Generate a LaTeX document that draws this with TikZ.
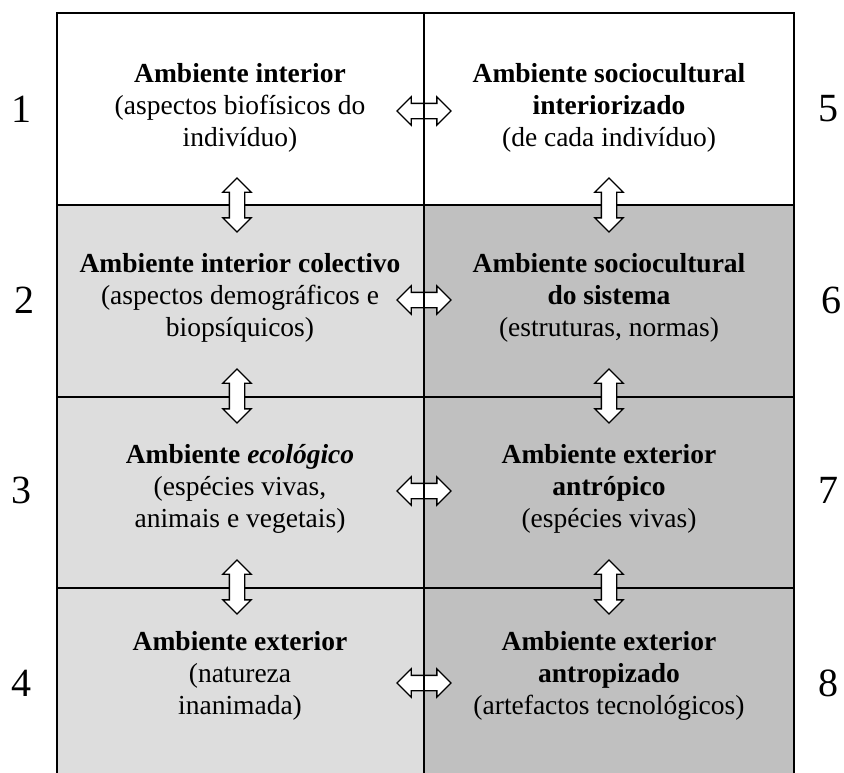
\documentclass[tikz,border=0pt]{standalone}
\usepackage{fontspec}
\setmainfont{Liberation Serif}
\usetikzlibrary{shapes.arrows}
\definecolor{lightcell}{RGB}{221,221,221}
\definecolor{darkcell}{RGB}{192,192,192}
\tikzset{
  cellbox/.style={inner sep=0pt, minimum width=367pt, minimum height=#1},
  cellbox/.default=192pt,
  gridline/.style={line width=1.8pt},
  celltext/.style={align=center, font=\fontsize{27.5}{32}\selectfont, inner sep=0pt},
  rownum/.style={font=\fontsize{40}{40}\selectfont, inner sep=0pt},
  linkarrow/.style={double arrow, draw, fill=white, line width=1.3pt, inner sep=7pt,
    minimum height=54pt, double arrow head extend=6.5pt},
  vlink/.style={linkarrow, rotate=90},
}
\begin{document}
\begin{tikzpicture}[x=1pt,y=-1pt]
\useasboundingbox (0,0) rectangle (844,772);
\clip (0,0) rectangle (844,772);
% cell backgrounds of the two columns
\node[cellbox, fill=white]              (c1) at (240.5,109)   {};
\node[cellbox, fill=lightcell]          (c2) at (240.5,300.5) {};
\node[cellbox, fill=lightcell]          (c3) at (240.5,491.5) {};
\node[cellbox=203pt, fill=lightcell]    (c4) at (240.5,688.5) {};
\node[cellbox=192pt, fill=white, minimum width=370pt]     (c5) at (609,109)   {};
\node[cellbox, fill=darkcell, minimum width=370pt]        (c6) at (609,300.5) {};
\node[cellbox, fill=darkcell, minimum width=370pt]        (c7) at (609,491.5) {};
\node[cellbox=203pt, fill=darkcell, minimum width=370pt]  (c8) at (609,688.5) {};
% frame and row rules
\draw[gridline] (c1.north west) rectangle (c8.south east);
\draw[gridline] (c1.south west) -- (c5.south east);
\draw[gridline] (c2.south west) -- (c6.south east);
\draw[gridline] (c3.south west) -- (c7.south east);
% texts
\node[celltext] (t1) at (240,108) {\textbf{Ambiente interior}\\(aspectos biofísicos do\\indivíduo)};
\node[celltext] (t2) at (240,298) {\textbf{Ambiente interior colectivo}\\(aspectos demográficos e\\biopsíquicos)};
\node[celltext] (t3) at (240,489) {\textbf{Ambiente \textit{ecológico}}\\(espécies vivas,\\animais e vegetais)};
\node[celltext] (t4) at (240,676) {\textbf{Ambiente exterior}\\(natureza\\inanimada)};
\node[celltext] (t5) at (609,108) {\textbf{Ambiente sociocultural}\\\textbf{interiorizado}\\(de cada indivíduo)};
\node[celltext] (t6) at (609,298) {\textbf{Ambiente sociocultural}\\\textbf{do sistema}\\(estruturas, normas)};
\node[celltext] (t7) at (609,489) {\textbf{Ambiente exterior}\\\textbf{antrópico}\\(espécies vivas)};
\node[celltext] (t8) at (609,676) {\textbf{Ambiente exterior}\\\textbf{antropizado}\\(artefactos tecnológicos)};
% row numbers
\node[rownum] (n1) at (22,109) {1};
\node[rownum] (n2) at (24,300) {2};
\node[rownum] (n3) at (22,490) {3};
\node[rownum] (n4) at (22,683) {4};
\node[rownum] (n5) at (828,109) {5};
\node[rownum] (n6) at (831,300) {6};
\node[rownum] (n7) at (828,490) {7};
\node[rownum] (n8) at (828,683) {8};
% horizontal links
\node[linkarrow] (h15) at (424,111) {};
\node[linkarrow] (h26) at (424,300) {};
\node[linkarrow] (h37) at (424,491) {};
\node[linkarrow] (h48) at (424,683) {};
% middle divider runs over the horizontal links
\draw[gridline] (c1.north east) -- (c4.south east);
% vertical links
\node[vlink] (v12) at (237,205) {};
\node[vlink] (v23) at (237,396) {};
\node[vlink] (v34) at (237,587) {};
\node[vlink] (v56) at (609,205) {};
\node[vlink] (v67) at (609,396) {};
\node[vlink] (v78) at (609,587) {};
\end{tikzpicture}
\end{document}
